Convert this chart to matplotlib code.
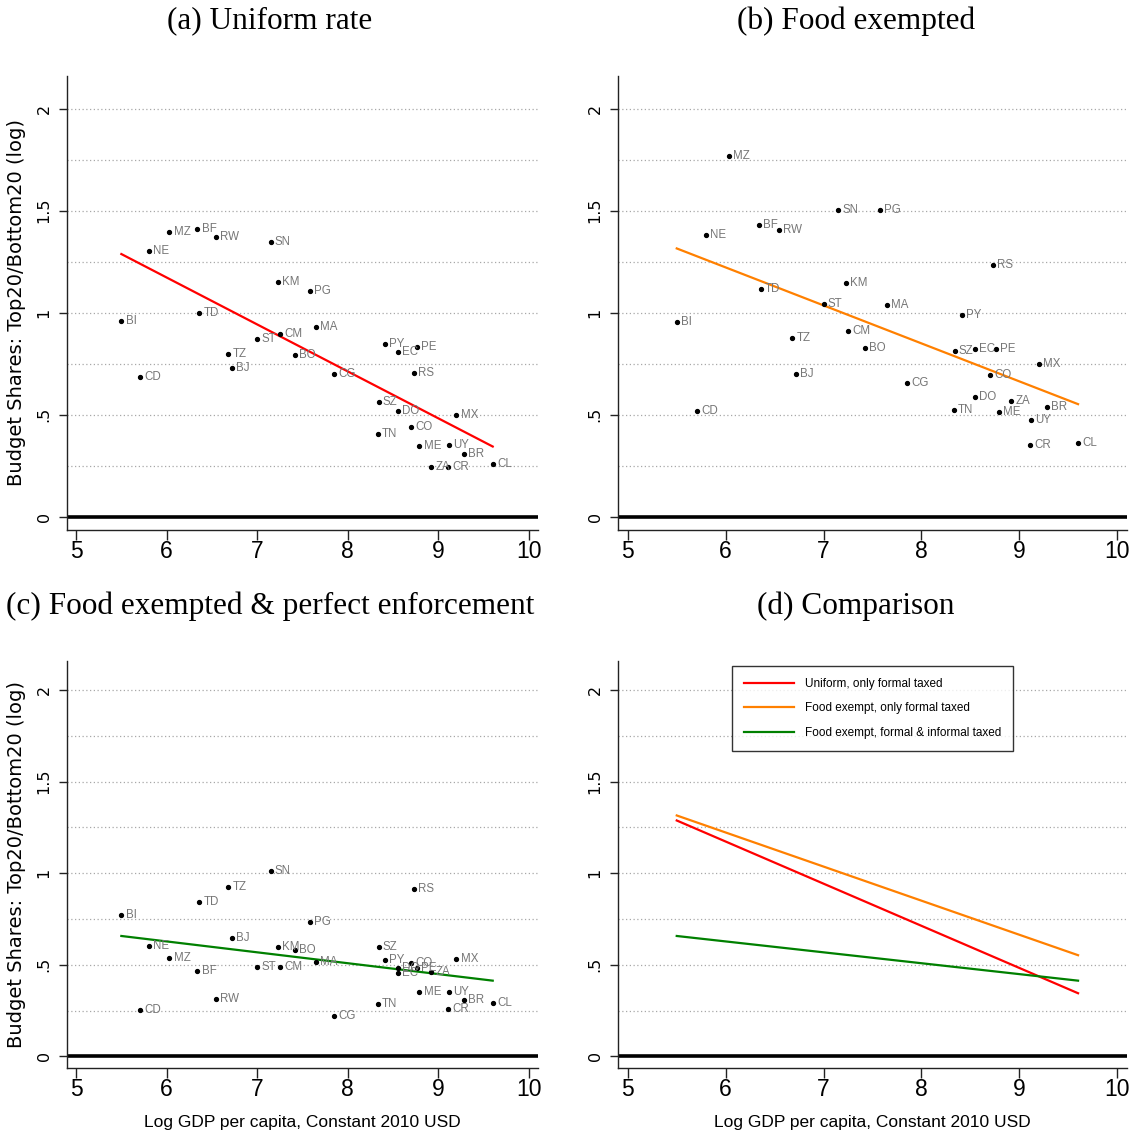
import numpy as np
import matplotlib.pyplot as plt

countries = ["BI", "CD", "NE", "MZ", "BF", "RW", "TD", "TZ", "BJ", "ST", "CM", "SN", "KM", "BO", "PG", "MA", "CG",
             "PY", "EC", "PE", "RS", "SZ", "DO", "MX", "CO", "TN", "ME", "UY", "BR", "ZA", "CR", "CL"]
log_gdp = [5.50, 5.71, 5.80, 6.03, 6.34, 6.54, 6.36, 6.68, 6.72, 7.00, 7.25, 7.15, 7.23, 7.42, 7.58, 7.65, 7.85,
           8.41, 8.55, 8.76, 8.73, 8.34, 8.55, 9.20, 8.70, 8.33, 8.79, 9.12, 9.28, 8.92, 9.11, 9.60]

# Top20/Bottom20 budget share ratio (log), one list per scenario
uniform = [0.961, 0.686, 1.301, 1.394, 1.410, 1.369, 1.001, 0.800, 0.727, 0.872, 0.898, 1.346, 1.153, 0.795, 1.109, 0.932, 0.702,
           0.849, 0.808, 0.833, 0.706, 0.561, 0.519, 0.499, 0.442, 0.405, 0.348, 0.350, 0.306, 0.245, 0.244, 0.257]
food_exempt = [0.956, 0.517, 1.380, 1.769, 1.431, 1.405, 1.116, 0.878, 0.702, 1.044, 0.911, 1.504, 1.146, 0.828, 1.504, 1.039, 0.654,
               0.990, 0.824, 0.824, 1.236, 0.815, 0.587, 0.750, 0.694, 0.525, 0.512, 0.475, 0.537, 0.567, 0.351, 0.364]
food_enforced = [0.770, 0.253, 0.601, 0.536, 0.466, 0.315, 0.840, 0.927, 0.645, 0.486, 0.488, 1.011, 0.597, 0.579, 0.731, 0.514, 0.220,
                 0.528, 0.455, 0.483, 0.916, 0.597, 0.483, 0.532, 0.508, 0.288, 0.351, 0.353, 0.308, 0.461, 0.257, 0.293]

titles = ["(a) Uniform rate", "(b) Food exempted", "(c) Food exempted & perfect enforcement", "(d) Comparison"]
legend_labels = ["Uniform, only formal taxed", "Food exempt, only formal taxed", "Food exempt, formal & informal taxed"]
line_colors = ["#ff0000", "#ff8000", "#008000"]

narrow = ["Liberation Sans Narrow", "Liberation Sans"]

W, H = 1130, 1138
fig = plt.figure(figsize=(W / 100, H / 100), dpi=100)

boxes = [(67, 538, 76, 529.5), (618, 1127, 76, 529.5), (67, 538, 660.7, 1067.7), (618, 1127, 660.7, 1067.7)]
axes = []
for (l, r, t, b) in boxes:
    axes.append(fig.add_axes([l / W, 1 - b / H, (r - l) / W, (b - t) / H]))


def style(ax, left, bottom):
    ax.set_xlim(4.9, 10.1)
    ax.set_ylim(-0.062, 2.16)
    ax.spines["top"].set_visible(False)
    ax.spines["right"].set_visible(False)
    for s in ["left", "bottom"]:
        ax.spines[s].set_linewidth(1.0)
        ax.spines[s].set_color("#222222")
    for v in np.arange(0.25, 2.01, 0.25):
        ax.axhline(v, color="#a8a8a8", lw=0.9, ls=(0, (1, 2)), zorder=0)
    ax.axhline(0, color="black", lw=2.6, zorder=1)
    ax.set_xticks(range(5, 11))
    ax.set_xticklabels([str(i) for i in range(5, 11)], family=narrow, fontsize=16.5)
    ax.set_yticks([0, 0.5, 1, 1.5, 2])
    ax.set_yticklabels(["0", ".5", "1", "1.5", "2"], family="DejaVu Sans", fontsize=11.5,
                       rotation=90, va="center")
    ax.tick_params(axis="x", length=7, width=1.0, pad=0.5, colors="#222222", labelcolor="black")
    ax.tick_params(axis="y", length=6, width=1.0, pad=5, colors="#222222", labelcolor="black")
    if left:
        ax.set_ylabel("Budget Shares: Top20/Bottom20 (log)", family="DejaVu Sans", fontsize=14)
        ax.yaxis.set_label_coords(-(67 - 26) / (538 - 67), 0.5)
    if bottom:
        ax.set_xlabel("Log GDP per capita, Constant 2010 USD", family=narrow, fontsize=12.5, labelpad=10)


x = np.array(log_gdp)
series = [np.array(uniform), np.array(food_exempt), np.array(food_enforced)]
xs = np.array([x.min(), x.max()])
fits = [np.polyval(np.polyfit(x, y, 1), xs) for y in series]

for i, ax in enumerate(axes[:3]):
    style(ax, i % 2 == 0, i >= 2)
    y = series[i]
    ax.plot(x, y, "o", color="black", ms=2.8, zorder=3)
    for cx, cy, name in zip(x, y, countries):
        ax.annotate(name, (cx, cy), xytext=(3, 0), textcoords="offset points",
                    va="center", ha="left", fontsize=8.3, color="#767676", family=narrow)
    ax.plot(xs, fits[i], color=line_colors[i], lw=1.6, zorder=2)

axd = axes[3]
style(axd, False, True)
for i in range(3):
    axd.plot(xs, fits[i], color=line_colors[i], lw=1.6, label=legend_labels[i])
leg = axd.legend(loc="upper center", bbox_to_anchor=(0.5, 0.995), prop={"family": narrow, "size": 8.5},
                 frameon=True, fancybox=False, handlelength=4.3, handletextpad=0.9, labelspacing=1.05,
                 borderpad=1.0, borderaxespad=0.3)
leg.get_frame().set_edgecolor("black")
leg.get_frame().set_linewidth(1.0)

title_pos = [(270, 21), (856, 21), (270, 606), (856, 606)]
for (tx, ty), t in zip(title_pos, titles):
    fig.text(tx / W, 1 - ty / H, t, ha="center", va="center", family="Liberation Serif", fontsize=22.5)

fig.savefig("out.png", dpi=100)
